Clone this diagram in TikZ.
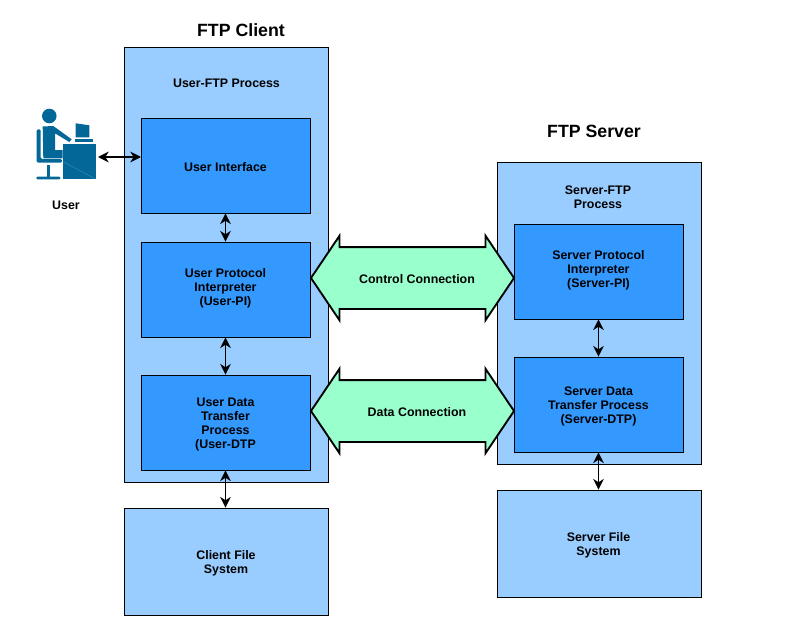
\documentclass[tikz,border=0pt]{standalone}
\usepackage{fontspec}
\setmainfont{Liberation Sans}
\usetikzlibrary{shapes.arrows,arrows.meta}
\definecolor{outerblue}{HTML}{99CCFF}
\definecolor{innerblue}{HTML}{3399FF}
\definecolor{linkgreen}{HTML}{99FFCC}
\definecolor{iconblue}{HTML}{036897}
\def\px{0.75pt}

\begin{document}
\begin{tikzpicture}[
  x=\px, y=-\px,
  title/.style={font=\fontsize{13.3}{15}\selectfont\bfseries, inner sep=0pt},
  caption/.style={font=\fontsize{9.3}{10.5}\selectfont\bfseries, align=center, inner sep=0pt},
  process/.style={
    draw, fill=outerblue, line width=0.6pt, rectangle, minimum width=204*\px
  },
  module/.style={
    draw, fill=innerblue, line width=0.6pt, rectangle,
    minimum width=169*\px, minimum height=95*\px
  },
  channel/.style={
    draw, fill=linkgreen, line width=1.4pt, double arrow, double arrow head extend=8.5pt,
    double arrow tip angle=112, minimum height=203*\px,
    text height=6.5pt, text depth=0pt, inner xsep=0pt, inner ysep=19.25pt, outer sep=0pt
  },
  arr/.style={{Stealth[length=8pt,width=8pt,inset=2.5pt]}-{Stealth[length=8pt,width=8pt,inset=2.5pt]}, line width=1.2pt},
  icon/.style={fill=iconblue, draw=none},
]
\useasboundingbox (0,0) rectangle (785,642);

% client side
\node[process, minimum height=435*\px] (client) at (226, 264.5) {};
\node[process, minimum height=107*\px] (clientfs) at (226, 561.5) {};
\node[title] (clienttitle) at (241, 30) {FTP Client};
\node[caption] (clientproc) at (226.5, 83.5) {User-FTP Process};
\node[module] (ui)   at (225.5, 165.5) {};
\node[module] (upi)  at (225.5, 289.5) {};
\node[module] (udtp) at (225.5, 422.5) {};
\node[caption] (uitext)   at (225.5, 167) {User Interface};
\node[caption] (upitext)  at (225.5, 288) {User Protocol\\Interpreter\\(User-PI)};
\node[caption] (udtptext) at (225.5, 424.5) {User Data\\Transfer\\Process\\(User-DTP};
\node[caption] (clientfstext) at (226, 563) {Client File\\System};

% server side
\node[process, minimum height=302*\px] (server) at (599, 313) {};
\node[process, minimum height=107*\px] (serverfs) at (599, 543.5) {};
\node[title] (servertitle) at (594, 131) {FTP Server};
\node[caption] (serverproc) at (598, 197) {Server-FTP\\Process};
\node[module] (spi)  at (598.5, 271.5) {};
\node[module] (sdtp) at (598.5, 404.5) {};
\node[caption] (spitext)  at (598.5, 270.5) {Server Protocol\\Interpreter\\(Server-PI)};
\node[caption] (sdtptext) at (598.5, 406.5) {Server Data\\Transfer Process\\(Server-DTP)};
\node[caption] (serverfstext) at (598.5, 545.5) {Server File\\System};

% links between both sides
\node[channel] (control) at (412.5, 278) {};
\node[channel] (data)    at (412.5, 411) {};
\node[caption] (controltext) at (417, 279.5) {Control Connection};
\node[caption] (datatext)    at (417, 412.5) {Data Connection};

% user icon
\fill[icon] (49.3,116) circle (7.3);
\fill[icon, rounded corners=1pt] (36.7,129.3) -- (40.7,129.3) -- (40.7,159) -- (62,159) -- (62,162.7) -- (36.7,162.7) -- cycle;
\fill[icon] (46.7,165) rectangle (50,177);
\fill[icon, rounded corners=1pt] (36,176.7) rectangle (60.7,179.3);
\fill[icon] (42.7,126.5) -- (53.3,126) -- (71.7,139.3) -- (69.3,142) -- (55,133.3) -- (55,150) -- (62.7,150) -- (62.7,158.3) -- (43.3,158.3) -- cycle;
\fill[icon] (63.3,144) rectangle (96,179.3);
\draw[white, opacity=0.25, line width=0.3pt] (63.3,161.7) -- (96,179.3);
\fill[icon] (75.7,123.3) -- (89.3,125.3) -- (89.3,137.3) -- (75.7,137.3) -- cycle;
\fill[icon] (75,139.3) rectangle (93.3,142);
\node[caption] (userlabel) at (66, 205) {User};
\coordinate (userport) at (98, 157);
\coordinate (uiport) at (141, 157);

\draw[arr] (userport) -- (uiport);
\draw[arr] (ui) -- (upi);
\draw[arr] (upi) -- (udtp);
\draw[arr] (udtp) -- (clientfs.north -| udtp);
\draw[arr] (spi) -- (sdtp);
\draw[arr] (sdtp) -- (serverfs.north -| sdtp);
\end{tikzpicture}
\end{document}
